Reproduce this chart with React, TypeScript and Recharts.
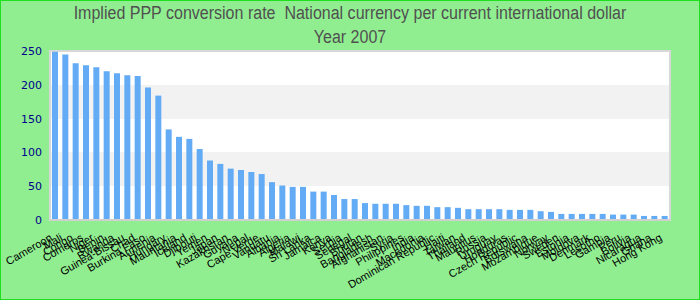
import React from "react";
import {
  BarChart,
  Bar,
  XAxis,
  YAxis,
  CartesianGrid,
  ReferenceArea,
} from "recharts";

// countries, sorted by rate
const countries: string[] = [
  "Cameroon", "Mali", "Congo", "Comoros", "Niger", "Benin", "Rwanda",
  "Guinea-Bissau", "Chad", "Burkina Faso", "Armenia", "Hungary", "Mauritania",
  "Iceland", "Djibouti", "Yemen", "Japan", "Kazakhstan", "Guyana", "Nepal",
  "Cape Verde", "Vanuatu", "Albania", "Algeria", "Malawi", "Sri Lanka",
  "Jamaica", "Kenya", "Serbia", "Senegal", "Bhutan", "Bangladesh",
  "Afghanistan", "Syria", "Philippines", "India", "Macedonia",
  "Dominican Republic", "Haiti", "Taiwan", "Thailand", "Mauritius", "Russia",
  "Uruguay", "Honduras", "Czech Republic", "Botswana", "Mozambique", "Norway",
  "Sweden", "Estonia", "Moldova", "Denmark", "Lesotho", "Gambia", "Peru",
  "Bolivia", "Nicaragua", "Ghana", "Hong Kong",
];

const rates: number[] = [
  249, 245, 232, 229, 226, 220, 217, 214, 213, 196, 184, 134, 123, 120, 105,
  88, 83, 76, 74, 71, 68, 56, 51, 49, 49, 42, 42, 37, 31, 31, 25, 24, 24, 24,
  22, 21, 21, 19, 19, 18, 16, 16, 16, 16, 15, 15, 15, 13, 12, 9, 9, 9, 9, 9,
  8, 8, 8, 6, 6, 6,
];

const yTicks: number[] = [0, 50, 100, 150, 200, 250];

const data = countries.map((name, i) => ({ name, rate: rates[i] }));

// rotated country label, end of text a little left of the bar
const CountryTick = (props: any) => {
  const { x, y, payload } = props;
  return (
    <text
      transform={`translate(${x - 6},${y + 1}) rotate(-30)`}
      textAnchor="end"
      dy="0.71em"
      fontSize={11}
      fontFamily="'Liberation Sans', Arial, sans-serif"
      fill="#000"
    >
      {payload.value}
    </text>
  );
};

export default function App() {
  return (
    <div
      style={{
        position: "absolute",
        left: 0,
        top: 0,
        width: 700,
        height: 300,
        background: "#90ee90",
      }}
    >
      <div
        style={{
          position: "absolute",
          left: 0,
          top: 1,
          width: 700,
          textAlign: "center",
          fontFamily: "'Liberation Sans', Arial, sans-serif",
          fontSize: 18,
          lineHeight: "24px",
          color: "#505050",
          transform: "scaleX(0.89)",
          transformOrigin: "350px 0",
        }}
      >
        <div>Implied PPP conversion rate&nbsp; National currency per current international dollar</div>
        <div>Year 2007</div>
      </div>
      <BarChart
        width={700}
        height={300}
        data={data}
        margin={{ top: 51, right: 30, bottom: 0, left: 10 }}
      >
        <CartesianGrid
          vertical={false}
          stroke="transparent"
          horizontalFill={["#ffffff", "#f2f2f2"]}
          fillOpacity={1}
        />
        <XAxis
          dataKey="name"
          interval={0}
          height={80}
          tickLine={false}
          tickMargin={6}
          axisLine={{ stroke: "#d0d0d0", strokeWidth: 2 }}
          tick={<CountryTick />}
        />
        <YAxis
          width={40}
          domain={[0, 250]}
          ticks={yTicks}
          tickLine={false}
          axisLine={false}
          tick={{ fontSize: 11, fill: "#00008b", fontFamily: "DejaVu Sans" }}
        />
        <ReferenceArea
          y1={0}
          y2={250}
          fill="none"
          stroke="#d8d8d8"
          strokeWidth={2}
        />
        <Bar dataKey="rate" fill="#63abf5" barSize={6} isAnimationActive={false} />
      </BarChart>
      <div
        style={{
          position: "absolute",
          left: 0,
          top: 0,
          width: 700,
          height: 300,
          boxSizing: "border-box",
          border: "1px solid #1ee01e",
          pointerEvents: "none",
        }}
      />
    </div>
  );
}
